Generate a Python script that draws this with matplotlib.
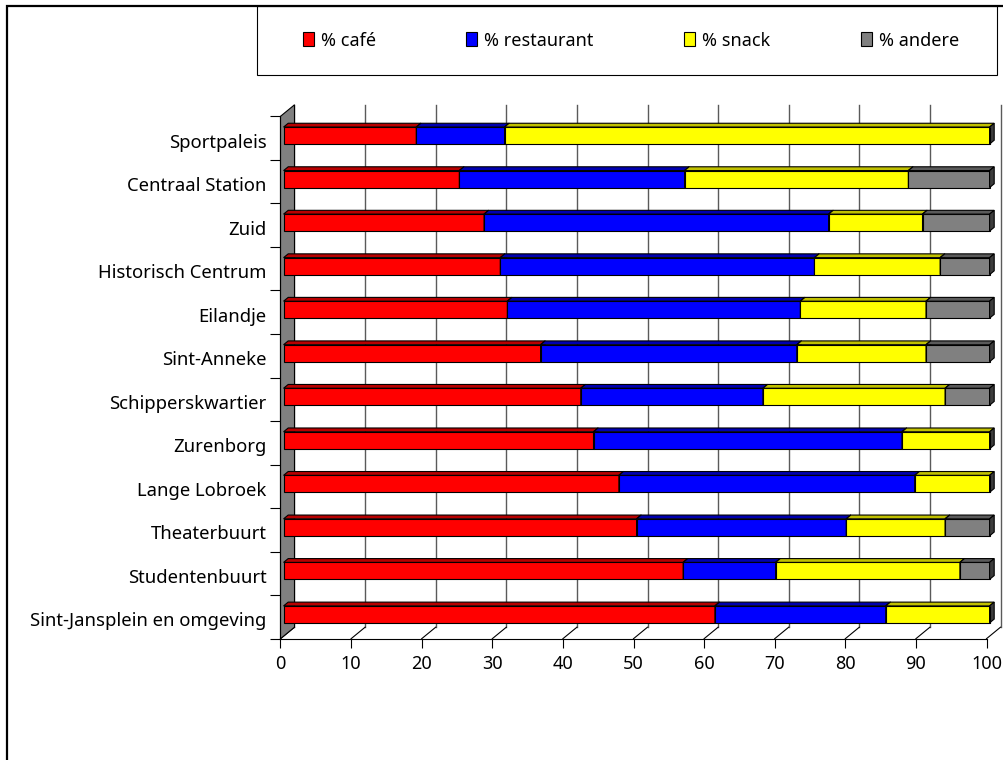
import numpy as np
import matplotlib
matplotlib.use('Agg')
import matplotlib.pyplot as plt
from matplotlib.patches import Polygon, Rectangle
from matplotlib.transforms import ScaledTranslation

plt.rcParams['font.family'] = ['Noto Sans', 'DejaVu Sans']

# data, top to bottom as in the chart
wijken = ['Sportpaleis', 'Centraal Station', 'Zuid', 'Historisch Centrum',
          'Eilandje', 'Sint-Anneke', 'Schipperskwartier', 'Zurenborg',
          'Lange Lobroek', 'Theaterbuurt', 'Studentenbuurt',
          'Sint-Jansplein en omgeving']
cafe = [18.8, 24.9, 28.4, 30.7, 31.7, 36.4, 42.1, 43.9, 47.5, 50.0, 56.6, 61.1]
restaurant = [12.5, 31.9, 48.8, 44.5, 41.5, 36.3, 25.8, 43.7, 41.9, 29.7, 13.1, 24.2]
snack = [68.7, 31.7, 13.3, 17.8, 17.8, 18.3, 25.8, 12.4, 10.6, 14.0, 26.1, 14.7]
andere = [0, 11.5, 9.5, 7.0, 9.0, 9.0, 6.3, 0, 0, 6.3, 4.2, 0]
labels = ['% café', '% restaurant', '% snack', '% andere']
xticks = list(range(0, 101, 10))

# (front, top, side) colours
kleuren = [('#ff0000', '#b80000', '#600000'),
           ('#0000ff', '#0000b0', '#000060'),
           ('#ffff00', '#c0c000', '#3c3c3c'),
           ('#808080', '#5a5a5a', '#3c3c3c')]

W, H = 1004, 760
def fx(px):
    return px / W
def fy(py):
    return 1 - py / H

fig = plt.figure(figsize=(W / 100, H / 100), dpi=100)
ax = fig.add_axes([fx(280.5), fy(638.7), 706 / W, 522.4 / H])
n = len(wijken)
ax.set_xlim(0, 100)
ax.set_ylim(-0.5, n - 0.5)
ax.patch.set_visible(False)

# depth of the 3d box, in data units
dx = 14 * 100 / 706
dy = 11.5 * n / 522.4
f0, f1 = 0.22, 0.55
h = 0.39

# back wall gridlines and floor diagonals
for t in xticks:
    ax.plot([t + dx, t + dx], [-0.5 + dy, n - 0.5 + dy], color='#5a5a5a', lw=1,
            clip_on=False, zorder=0.5)
    ax.plot([t, t + dx], [-0.5, -0.5 + dy], color='black', lw=0.8,
            clip_on=False, zorder=0.6)
# left wall
ax.add_patch(Polygon([(0, -0.5), (dx, -0.5 + dy), (dx, n - 0.5 + dy), (0, n - 0.5)],
                     closed=True, fc='#808080', ec='black', lw=0.8,
                     clip_on=False, zorder=1))

pos = np.arange(n)[::-1]
left = np.zeros(n)
handles = []
for vals, lab, (cf, ct, cs) in zip([cafe, restaurant, snack, andere], labels, kleuren):
    vals = np.array(vals)
    b = ax.barh(pos + f0 * dy, vals, left=left + f0 * dx, height=h, color=cf,
                edgecolor='black', linewidth=0.8, label=lab, zorder=3, clip_on=False)
    handles.append(b)
    ddx, ddy = (f1 - f0) * dx, (f1 - f0) * dy
    for p, l, v in zip(pos, left, vals):
        if v <= 0:
            continue
        y0 = p + f0 * dy
        x0 = l + f0 * dx
        top = [(x0, y0 + h / 2), (x0 + v, y0 + h / 2),
               (x0 + v + ddx, y0 + h / 2 + ddy), (x0 + ddx, y0 + h / 2 + ddy)]
        side = [(x0 + v, y0 - h / 2), (x0 + v, y0 + h / 2),
                (x0 + v + ddx, y0 + h / 2 + ddy), (x0 + v + ddx, y0 - h / 2 + ddy)]
        ax.add_patch(Polygon(top, closed=True, fc=ct, ec='black', lw=0.8,
                             zorder=3, clip_on=False))
        ax.add_patch(Polygon(side, closed=True, fc=cs, ec='black', lw=0.8,
                             zorder=3, clip_on=False))
    left = left + vals

for s in ['top', 'right']:
    ax.spines[s].set_visible(False)
ax.spines['bottom'].set_linewidth(0.8)
ax.spines['left'].set_linewidth(0.8)

ax.set_xticks(xticks)
ax.tick_params(axis='x', direction='out', length=6.5, width=0.8, pad=5.5, labelsize=13)
ax.set_yticks(np.arange(-0.5, n, 1))
ax.set_yticklabels([])
ax.set_yticks(pos, wijken, minor=True)
ax.tick_params(axis='y', which='major', direction='out', length=7.5, width=0.8)
ax.tick_params(axis='y', which='minor', length=0, pad=10, labelsize=13.3)
shift = ScaledTranslation(0, -2.5 / 100, fig.dpi_scale_trans)
for lbl in ax.get_yticklabels(minor=True):
    lbl.set_transform(lbl.get_transform() + shift)

# legend and frames
fig.add_artist(Rectangle((fx(257), fy(75)), 740 / W, 69 / H, transform=fig.transFigure,
                         fill=False, ec='black', lw=0.8))
fig.add_artist(Rectangle((fx(7), fy(780)), 1020 / W, 774 / H, transform=fig.transFigure,
                         fill=False, ec='black', lw=1.6))
fig.legend(handles=handles, labels=labels, loc='center',
           bbox_to_anchor=(fx(631), fy(40.5)), ncol=4, frameon=False, fontsize=13,
           handlelength=0.6, handleheight=0.8, handletextpad=0.4, columnspacing=5.0)

fig.savefig('out.png', dpi=100)
